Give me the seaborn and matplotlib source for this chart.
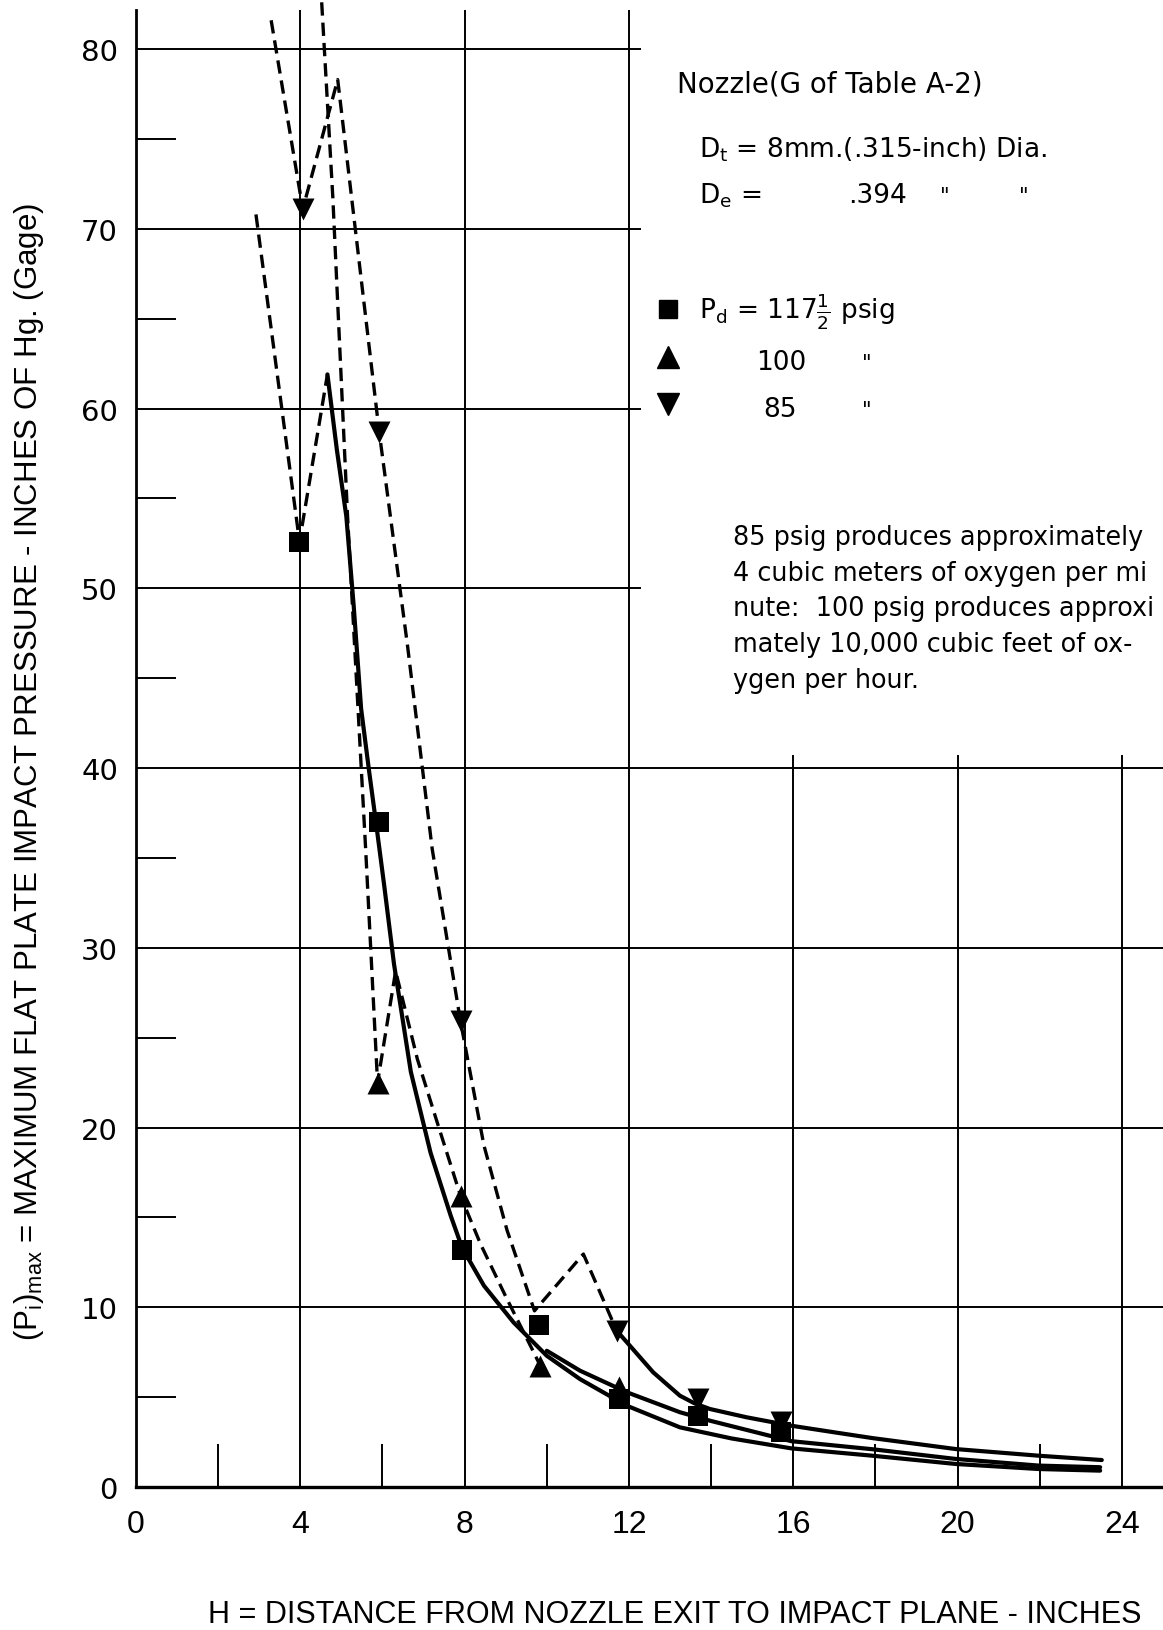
import matplotlib
matplotlib.use("Agg")
import matplotlib.pyplot as plt
import seaborn as sns
from matplotlib.lines import Line2D

# ---------------- data ----------------
# measured points
sq_x = [3.98, 5.92, 7.94, 9.80, 11.75, 13.68, 15.71]      # Pd = 117 1/2 psig
sq_y = [52.6, 37.0, 13.2, 9.0, 4.9, 3.97, 3.04]
up_x = [5.88, 7.90, 9.84, 11.75]                           # Pd = 100 psig
up_y = [22.5, 16.2, 6.75, 5.55]
dn_x = [4.06, 5.92, 7.90, 11.70, 13.68, 15.71]             # Pd = 85 psig
dn_y = [71.1, 58.7, 25.9, 8.7, 4.9, 3.6]

# dashed connecting lines
dash_sq_x = [2.92, 3.98, 4.66]
dash_sq_y = [70.8, 52.6, 61.9]
dash_up_x = [4.52, 4.79, 5.15, 5.59, 5.88, 6.32, 6.85, 7.33, 7.90, 8.39, 9.00, 9.68, 9.84]
dash_up_y = [82.6, 71.8, 54.0, 35.5, 22.5, 28.7, 23.8, 20.3, 16.2, 13.5, 10.6, 7.5, 6.75]
dash_dn_x = [3.29, 4.06, 4.91, 5.92, 6.61, 7.21, 7.90, 8.47, 9.03, 9.70, 10.89, 11.70]
dash_dn_y = [81.6, 71.1, 78.3, 58.7, 46.8, 35.5, 25.9, 19.0, 14.3, 9.8, 12.96, 8.7]

# solid faired curves
sol_sq_x = [4.66, 4.89, 5.12, 5.30, 5.48, 5.67, 5.84, 6.04, 6.28, 6.69, 7.17, 7.66, 7.94,
            8.47, 9.19, 10.0, 10.81, 11.95, 13.24, 14.5, 15.95, 17.93, 19.96, 21.98, 23.47]
sol_sq_y = [61.9, 57.7, 54.0, 49.0, 43.3, 39.9, 37.0, 33.5, 29.1, 23.1, 18.6, 15.1, 13.3,
            11.2, 9.16, 7.3, 6.0, 4.52, 3.32, 2.7, 2.15, 1.74, 1.28, 1.0, 0.91]
sol_up_x = [10.0, 10.81, 11.95, 13.24, 13.97, 15.95, 17.93, 19.96, 21.98, 23.47]
sol_up_y = [7.58, 6.47, 5.27, 4.16, 3.69, 2.55, 2.1, 1.56, 1.19, 1.10]
sol_dn_x = [11.70, 11.95, 12.59, 13.24, 13.6, 13.97, 14.86, 15.95, 17.12, 17.93, 19.96, 21.98, 23.51]
sol_dn_y = [8.70, 8.05, 6.38, 5.08, 4.65, 4.34, 3.88, 3.41, 3.0, 2.72, 2.11, 1.74, 1.50]

# axes / ticks
x_major = [0, 4, 8, 12, 16, 20, 24]
x_labels = ["0", "4", "8", "12", "16", "20", "24"]
x_minor = [2, 6, 10, 14, 18, 22]
y_major = [0, 10, 20, 30, 40, 50, 60, 70, 80]
y_minor = [5, 15, 25, 35, 45, 55, 65, 75]
grid_h_full = [10, 20, 30, 40]
grid_h_part = [50, 60, 70, 80]
grid_v_full = [4, 8, 12]
grid_v_part = [16, 20, 24]

# ---------------- figure ----------------
sns.set_theme(style="white")
NARROW = ['Liberation Sans', 'DejaVu Sans']
WIDE = ['DejaVu Sans']
plt.rcParams['font.family'] = NARROW
plt.rcParams['mathtext.default'] = 'regular'

W, H = 1163, 1631
fig = plt.figure(figsize=(W / 100, H / 100), dpi=100)
fig.patch.set_facecolor('white')
X0, Y0, YTOP = 136, 1488, 10.5
ax = fig.add_axes([X0 / W, (H - Y0) / H, 1 - X0 / W, (Y0 - YTOP) / H])
ax.set_facecolor('white')
ax.set_xlim(0, 25.0)
ax.set_ylim(0, 82.2)


def P(px, py):
    return px / W, 1 - py / H


# grid
GL = dict(color='black', lw=1.4, zorder=1)
ax.hlines(grid_h_full, 0, 25.0, **GL)
ax.hlines(grid_h_part, 0, 12.3, **GL)
ax.vlines(grid_v_full, 0, 82.2, **GL)
ax.vlines(grid_v_part, 0, 40.7, **GL)

for s in ['top', 'right']:
    ax.spines[s].set_visible(False)
ax.spines['left'].set_color('black')
ax.spines['left'].set_linewidth(2.0)
ax.spines['bottom'].set_color('black')
ax.spines['bottom'].set_linewidth(2.4)

ax.set_xticks(x_major)
ax.set_xticklabels(x_labels)
ax.set_xticks(x_minor, minor=True)
ax.set_yticks(y_major)
ax.set_yticks(y_minor, minor=True)
ax.tick_params(axis='x', which='major', length=0, pad=16, labelsize=23,
               labelcolor='black', bottom=True, labelfontfamily=NARROW)
ax.tick_params(axis='y', which='major', length=0, pad=13, labelsize=21,
               labelcolor='black', left=True, labelfontfamily=WIDE)
ax.tick_params(axis='x', which='minor', direction='in', length=31, width=1.4,
               color='black', bottom=True)
ax.tick_params(axis='y', which='minor', direction='in', length=29, width=1.4,
               color='black', left=True)

# lines
DASH = dict(color='black', lw=2.4, linestyle=(0, (4.0, 2.1)), sort=False,
            estimator=None, legend=False, ax=ax)
sns.lineplot(x=dash_sq_x, y=dash_sq_y, **DASH)
sns.lineplot(x=dash_up_x, y=dash_up_y, clip_on=False, **DASH)
sns.lineplot(x=dash_dn_x, y=dash_dn_y, **DASH)

SOL = dict(color='black', lw=3.0, sort=False, estimator=None, legend=False, ax=ax)
sns.lineplot(x=sol_sq_x, y=sol_sq_y, **SOL)
sns.lineplot(x=sol_up_x, y=sol_up_y, **SOL)
sns.lineplot(x=sol_dn_x, y=sol_dn_y, **SOL)

# markers
MK = dict(color='black', linewidth=0, legend=False, ax=ax, zorder=5)
sns.scatterplot(x=sq_x, y=sq_y, marker='s', s=225, **MK)
sns.scatterplot(x=up_x, y=up_y, marker='^', s=250, **MK)
sns.scatterplot(x=dn_x, y=dn_y, marker='v', s=250, **MK)

# axis labels
fig.text(*P(29, 772),
         r"(P$_{i}$)$_{max}$ = MAXIMUM FLAT PLATE IMPACT PRESSURE - INCHES OF Hg. (Gage)",
         rotation=90, ha='center', va='center', fontsize=22.5, color='black')
fig.text(*P(675, 1623), "H = DISTANCE FROM NOZZLE EXIT TO IMPACT PLANE - INCHES",
         ha='center', va='baseline', fontsize=22, color='black')

# nozzle description
TX = dict(color='black', va='baseline', ha='left', family=WIDE)
fig.text(*P(677, 93), "Nozzle(G of Table A-2)", fontsize=20, **TX)
fig.text(*P(699, 157), r"D$_t$ = 8mm.(.315-inch) Dia.", fontsize=19, **TX)
fig.text(*P(699, 203), r"D$_e$ =", fontsize=19, **TX)
fig.text(*P(848, 203), ".394", fontsize=19, **TX)
fig.text(*P(940, 203), '"', fontsize=15, **TX)
fig.text(*P(1019, 203), '"', fontsize=15, **TX)

# legend keys
for (px, py), m, ms in [((668, 310), 's', 13), ((668, 358), '^', 16), ((668, 405), 'v', 16)]:
    fig.add_artist(Line2D([px / W], [1 - py / H], marker=m, markersize=ms,
                          color='black', linestyle='none', transform=fig.transFigure))
fig.text(*P(699, 320), r"P$_d$ = 117$\frac{1}{2}$ psig", fontsize=19, **TX)
fig.text(*P(756, 370), "100", fontsize=19, **TX)
fig.text(*P(862, 370), '"', fontsize=15, **TX)
fig.text(*P(763, 417), "85", fontsize=19, **TX)
fig.text(*P(862, 417), '"', fontsize=15, **TX)

# explanatory paragraph (ends at the right edge as in the original)
para = ["85 psig produces approximately",
        "4 cubic meters of oxygen per mi",
        "nute:  100 psig produces approxi",
        "mately 10,000 cubic feet of ox-",
        "ygen per hour."]
for i, line in enumerate(para):
    fig.text(*P(733, 545 + 35.7 * i), line, fontsize=18.4, **TX)

fig.savefig("out.png", dpi=100, facecolor='white')
